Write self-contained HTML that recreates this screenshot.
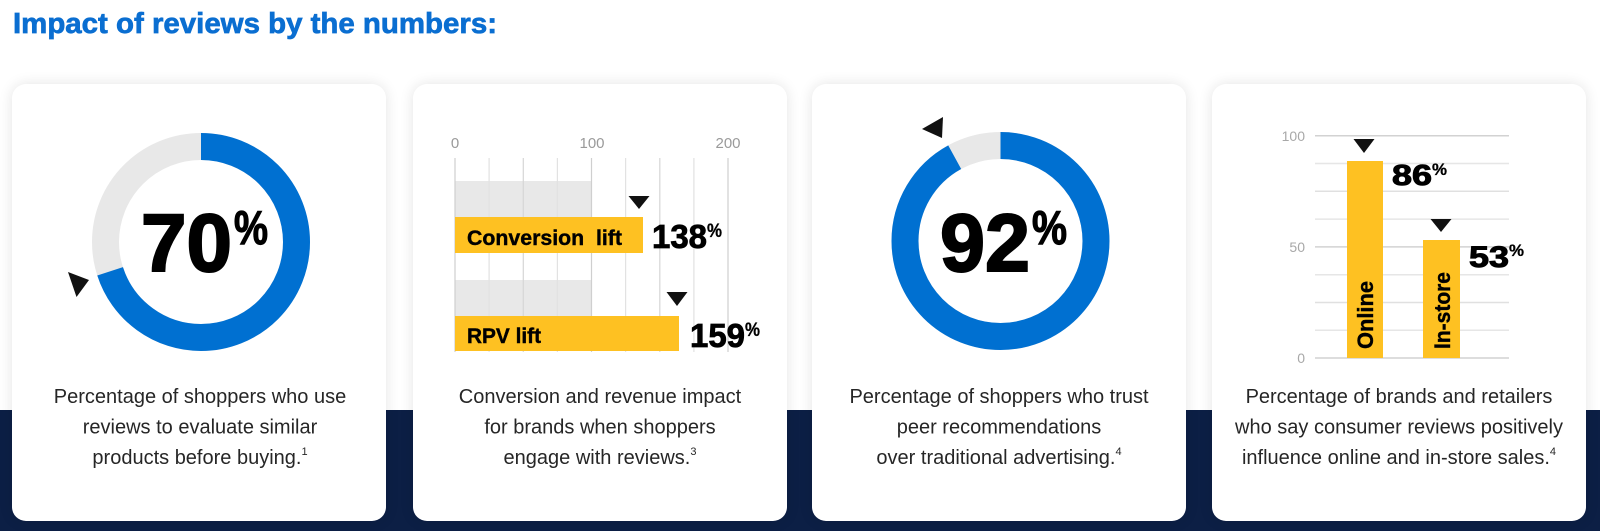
<!DOCTYPE html>
<html>
<head>
<meta charset="utf-8">
<style>
  html,body{margin:0;padding:0;}
  body{width:1600px;height:531px;overflow:hidden;background:#ffffff;position:relative;font-family:"Liberation Sans",sans-serif;}
  .navy{position:absolute;left:0;top:410px;width:1600px;height:121px;background:#0c1f45;}
  .card{position:absolute;top:84px;width:374px;height:437px;background:#fff;border-radius:14px;box-shadow:0 0 14px rgba(0,0,0,0.11);}
  svg{position:absolute;left:0;top:0;}
</style>
</head>
<body>
<div class="navy"></div>
<div class="card" style="left:12px"></div>
<div class="card" style="left:413px"></div>
<div class="card" style="left:812px"></div>
<div class="card" style="left:1212px"></div>

<svg width="1600" height="531" viewBox="0 0 1600 531" xmlns="http://www.w3.org/2000/svg" font-family="Liberation Sans, sans-serif">
  <!-- Title -->
  <text x="13" y="33" font-size="29" font-weight="bold" fill="#0a6ed1" stroke="#0a6ed1" stroke-width="0.7" textLength="484" lengthAdjust="spacingAndGlyphs">Impact of reviews by the numbers:</text>

  <!-- ===== Card 1: donut 70% ===== -->
  <circle cx="201" cy="242" r="95.5" fill="none" stroke="#e8e8e8" stroke-width="27"/>
  <circle cx="201" cy="242" r="95.5" fill="none" stroke="#0070d1" stroke-width="27" stroke-dasharray="420.03 700" transform="rotate(-90 201 242)"/>
  <polygon points="68,272 89,280 76.5,297" fill="#111"/>
  <g fill="#000" stroke="#000" font-weight="bold">
    <text x="141" y="271" font-size="82" stroke-width="2" textLength="91" lengthAdjust="spacingAndGlyphs">70</text>
    <text x="234" y="244" font-size="47" stroke-width="1.2" textLength="34" lengthAdjust="spacingAndGlyphs">%</text>
  </g>
  <g font-size="20" fill="#262626" text-anchor="middle">
    <text x="200" y="403">Percentage of shoppers who use</text>
    <text x="200" y="433.5">reviews to evaluate similar</text>
    <text x="200" y="464">products before buying.<tspan font-size="11" dy="-9">1</tspan></text>
  </g>

  <!-- ===== Card 2: horizontal bars ===== -->
  <g font-size="15" fill="#9a9a9a" text-anchor="middle">
    <text x="455" y="148">0</text>
    <text x="592" y="148">100</text>
    <text x="728" y="148">200</text>
  </g>
  <rect x="455" y="181" width="137" height="36" fill="#e8e8e8"/>
  <rect x="455" y="280" width="137" height="36" fill="#e8e8e8"/>
  <g stroke-width="1.2">
    <line x1="455" y1="158" x2="455" y2="352" stroke="#cfcfcf"/>
    <line x1="489.1" y1="158" x2="489.1" y2="352" stroke="#e2e2e2"/>
    <line x1="523.3" y1="158" x2="523.3" y2="352" stroke="#d6d6d6"/>
    <line x1="557.4" y1="158" x2="557.4" y2="352" stroke="#e2e2e2"/>
    <line x1="591.5" y1="158" x2="591.5" y2="352" stroke="#cfcfcf"/>
    <line x1="625.6" y1="158" x2="625.6" y2="352" stroke="#e2e2e2"/>
    <line x1="659.8" y1="158" x2="659.8" y2="352" stroke="#d6d6d6"/>
    <line x1="693.9" y1="158" x2="693.9" y2="352" stroke="#e2e2e2"/>
    <line x1="728" y1="158" x2="728" y2="352" stroke="#cfcfcf"/>
  </g>
  <rect x="455" y="217" width="188" height="36" fill="#fec122"/>
  <rect x="455" y="316" width="224" height="35" fill="#fec122"/>
  <polygon points="628.5,196 649.5,196 639,209" fill="#111"/>
  <polygon points="666.5,292 687.5,292 677,306" fill="#111"/>
  <g fill="#000" stroke="#000" font-weight="bold">
    <text x="467" y="245" font-size="21" stroke-width="0.4" textLength="155" lengthAdjust="spacingAndGlyphs" xml:space="preserve">Conversion  lift</text>
    <text x="467" y="343" font-size="21" stroke-width="0.4" textLength="74" lengthAdjust="spacingAndGlyphs">RPV lift</text>
    <text x="652" y="248" font-size="33" stroke-width="0.8" textLength="55" lengthAdjust="spacingAndGlyphs">138</text>
    <text x="707" y="237" font-size="19" stroke-width="0.3" textLength="15" lengthAdjust="spacingAndGlyphs">%</text>
    <text x="690" y="347" font-size="33" stroke-width="0.8" textLength="55" lengthAdjust="spacingAndGlyphs">159</text>
    <text x="745" y="336" font-size="19" stroke-width="0.3" textLength="15" lengthAdjust="spacingAndGlyphs">%</text>
  </g>
  <g font-size="20" fill="#262626" text-anchor="middle">
    <text x="600" y="403">Conversion and revenue impact</text>
    <text x="600" y="433.5">for brands when shoppers</text>
    <text x="600" y="464">engage with reviews.<tspan font-size="11" dy="-9">3</tspan></text>
  </g>

  <!-- ===== Card 3: donut 92% ===== -->
  <circle cx="1000.5" cy="241" r="95.5" fill="none" stroke="#e8e8e8" stroke-width="27"/>
  <circle cx="1000.5" cy="241" r="95.5" fill="none" stroke="#0070d1" stroke-width="27" stroke-dasharray="552.04 700" transform="rotate(-90 1000.5 241)"/>
  <polygon points="922,129 943,117 942,138" fill="#111"/>
  <g fill="#000" stroke="#000" font-weight="bold">
    <text x="940" y="271" font-size="82" stroke-width="2" textLength="90" lengthAdjust="spacingAndGlyphs">92</text>
    <text x="1032" y="244" font-size="47" stroke-width="1.2" textLength="35" lengthAdjust="spacingAndGlyphs">%</text>
  </g>
  <g font-size="20" fill="#262626" text-anchor="middle">
    <text x="999" y="403">Percentage of shoppers who trust</text>
    <text x="999" y="433.5">peer recommendations</text>
    <text x="999" y="464">over traditional advertising.<tspan font-size="11" dy="-9">4</tspan></text>
  </g>

  <!-- ===== Card 4: vertical bars ===== -->
  <g stroke-width="1.5">
    <line x1="1315" y1="135.7" x2="1509" y2="135.7" stroke="#d2d2d2"/>
    <line x1="1315" y1="163.5" x2="1509" y2="163.5" stroke="#e6e6e6"/>
    <line x1="1315" y1="191.3" x2="1509" y2="191.3" stroke="#e0e0e0"/>
    <line x1="1315" y1="219.1" x2="1509" y2="219.1" stroke="#e6e6e6"/>
    <line x1="1315" y1="246.9" x2="1509" y2="246.9" stroke="#d2d2d2"/>
    <line x1="1315" y1="274.7" x2="1509" y2="274.7" stroke="#e6e6e6"/>
    <line x1="1315" y1="302.5" x2="1509" y2="302.5" stroke="#e0e0e0"/>
    <line x1="1315" y1="330.3" x2="1509" y2="330.3" stroke="#e6e6e6"/>
    <line x1="1315" y1="358" x2="1509" y2="358" stroke="#d2d2d2"/>
  </g>
  <g font-size="14" fill="#a8a8a8" text-anchor="end">
    <text x="1305" y="141">100</text>
    <text x="1305" y="252">50</text>
    <text x="1305" y="363">0</text>
  </g>
  <rect x="1347" y="161" width="36" height="197" fill="#fec122"/>
  <rect x="1423" y="240" width="37" height="118" fill="#fec122"/>
  <polygon points="1353.5,139 1374.5,139 1364,153" fill="#111"/>
  <polygon points="1430.5,219 1451.5,219 1441,232" fill="#111"/>
  <g fill="#000" stroke="#000" font-weight="bold">
    <text transform="translate(1373,349) rotate(-90)" font-size="22" stroke-width="0.4" textLength="68" lengthAdjust="spacingAndGlyphs">Online</text>
    <text transform="translate(1450,349) rotate(-90)" font-size="22" stroke-width="0.4" textLength="77" lengthAdjust="spacingAndGlyphs">In-store</text>
    <text x="1392" y="185" font-size="29" stroke-width="1" textLength="40" lengthAdjust="spacingAndGlyphs">86</text>
    <text x="1432" y="175" font-size="17" stroke-width="0.3" textLength="15" lengthAdjust="spacingAndGlyphs">%</text>
    <text x="1469" y="267" font-size="30" stroke-width="1" textLength="40" lengthAdjust="spacingAndGlyphs">53</text>
    <text x="1509" y="256" font-size="17" stroke-width="0.3" textLength="15" lengthAdjust="spacingAndGlyphs">%</text>
  </g>
  <g font-size="20" fill="#262626" text-anchor="middle">
    <text x="1399" y="403">Percentage of brands and retailers</text>
    <text x="1399" y="433.5">who say consumer reviews positively</text>
    <text x="1399" y="464">influence online and in-store sales.<tspan font-size="11" dy="-9">4</tspan></text>
  </g>
</svg>
</body>
</html>
